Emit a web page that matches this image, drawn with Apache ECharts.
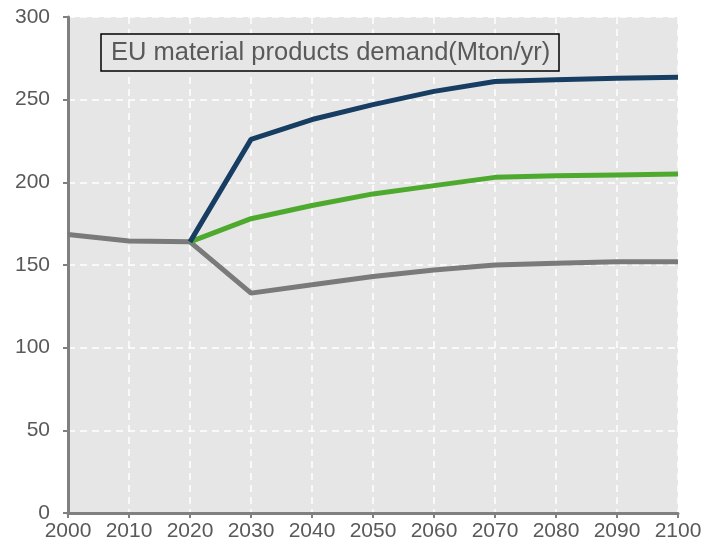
<!DOCTYPE html>
<html>
<head>
<meta charset="utf-8">
<script src="https://cdn.jsdelivr.net/npm/echarts@6/dist/echarts.min.js"></script>
<style>
  html, body { margin: 0; padding: 0; background: #fff; }
  #chart { width: 703px; height: 549px; }
</style>
</head>
<body>
<div id="chart"></div>
<script>
// data
const years = [2000, 2010, 2020, 2030, 2040, 2050, 2060, 2070, 2080, 2090, 2100];
const highDemand = [null, null, 164, 226, 238, 247, 255, 261, 262, 263, 263.5];
const midDemand = [null, null, 164, 178, 186, 193, 198, 203, 204, 204.5, 205];
const lowDemand = [168.5, 164.5, 164, 133, 138, 143, 147, 150, 151, 152, 152];

const titleText = 'EU material products demand(Mton/yr)';
const FONT = 'Liberation Sans, Arial, sans-serif';

function toPairs(values) {
  return years.map((y, i) => [y, values[i]]);
}

const chart = echarts.init(document.getElementById('chart'));

const axisColor = '#808080';
const labelColor = '#595959';

const option = {
  animation: false,
  backgroundColor: '#ffffff',
  title: {
    text: titleText,
    left: 101,
    top: 34,
    padding: [4, 9, 4, 10],
    borderColor: '#000000',
    borderWidth: 1.5,
    backgroundColor: '#e6e6e6',
    textStyle: {
      fontFamily: FONT,
      fontSize: 25.5,
      fontWeight: 'normal',
      color: labelColor,
      lineHeight: 29
    }
  },
  grid: {
    left: 68,
    right: 25,
    top: 17,
    bottom: 36,
    outerBoundsMode: 'none',
    containLabel: false,
    show: true,
    backgroundColor: '#e6e6e6',
    borderWidth: 0
  },
  xAxis: {
    type: 'value',
    min: 2000,
    max: 2100,
    interval: 10,
    axisLine: { lineStyle: { color: axisColor, width: 3 } },
    axisTick: { show: true, inside: false, length: 5, lineStyle: { color: axisColor, width: 2 } },
    axisLabel: {
      fontFamily: FONT,
      fontSize: 21,
      color: labelColor,
      margin: 8,
      formatter: v => String(v),
      showMinLabel: true,
      showMaxLabel: true
    },
    splitLine: {
      show: true,
      lineStyle: { color: '#ffffff', width: 1.5, type: [7, 5] }
    }
  },
  yAxis: {
    type: 'value',
    min: 0,
    max: 300,
    interval: 50,
    axisLine: { show: true, lineStyle: { color: axisColor, width: 3 } },
    axisTick: { show: true, inside: false, length: 5, lineStyle: { color: axisColor, width: 2 } },
    axisLabel: {
      fontFamily: FONT,
      fontSize: 21,
      color: labelColor,
      margin: 18
    },
    splitLine: {
      show: true,
      lineStyle: { color: '#ffffff', width: 1.5, type: [7, 5] }
    }
  },
  series: [
    {
      name: 'low',
      type: 'line',
      data: toPairs(lowDemand),
      symbol: 'none',
      lineStyle: { color: '#7a7a7a', width: 5 },
      z: 2
    },
    {
      name: 'mid',
      type: 'line',
      data: toPairs(midDemand),
      symbol: 'none',
      lineStyle: { color: '#4eaa2e', width: 5 },
      z: 3
    },
    {
      name: 'high',
      type: 'line',
      data: toPairs(highDemand),
      symbol: 'none',
      lineStyle: { color: '#173d63', width: 5 },
      z: 4
    }
  ]
};

chart.setOption(option);
</script>
</body>
</html>
